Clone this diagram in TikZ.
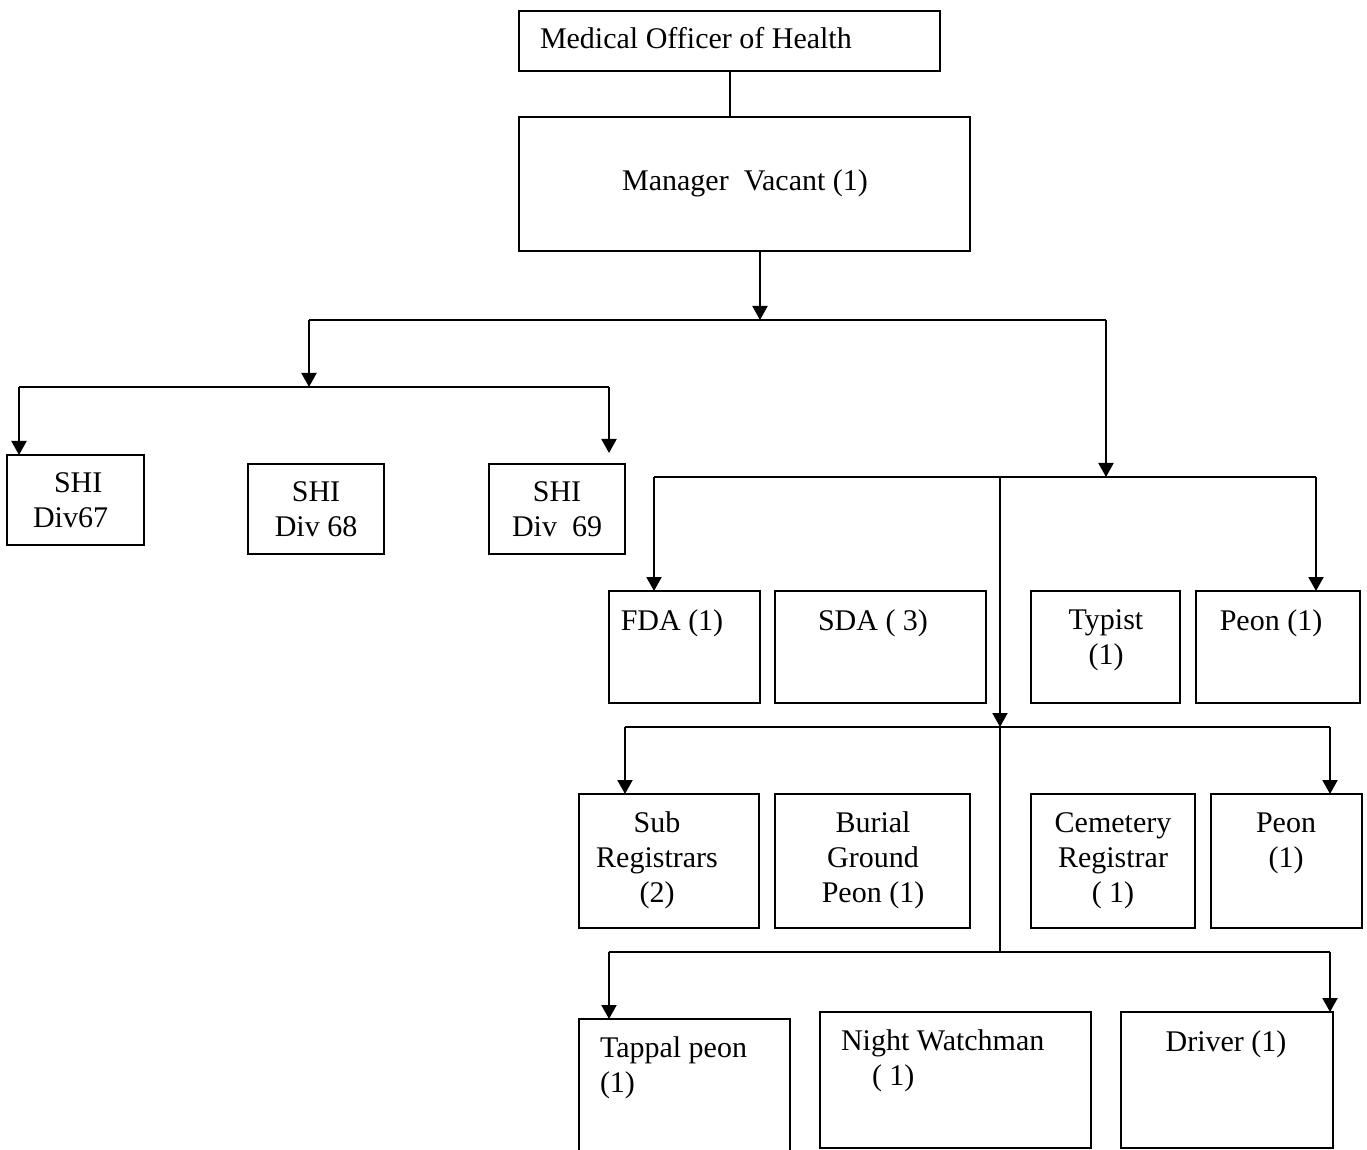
\documentclass[tikz,border=0pt]{standalone}
\usepackage{fontspec}
\setmainfont{Liberation Serif}
\usetikzlibrary{arrows.meta}
\newcommand\ebox[5]{\node[box, minimum width={(#4-#2)*0.5pt}, minimum height={(#5-#3)*0.5pt}] (#1) at ({(#2+#4)/2},{(#3+#5)/2}) {};}
\newcommand\ml[2][c]{\begin{tabular}[t]{@{}#1@{}}#2\end{tabular}}
\begin{document}
\begin{tikzpicture}[x=0.5pt,y=-0.5pt,line width=1pt,
  box/.style={draw, line width=1pt, inner sep=0pt, outer sep=0pt},
  lbl/.style={inner sep=0pt, anchor=base, font=\fontsize{15}{17.5}\selectfont},
  arr/.style={-{Triangle[length=7pt,width=7.5pt]}}]
\clip (0,0) rectangle (1367,1150);
\fill[white] (0,0) rectangle (1367,1150);
% boxes
\ebox{moh}{519}{11}{940}{71}
\ebox{mgr}{519}{117}{970}{251}
\ebox{shia}{7}{455}{144}{545}
\ebox{shib}{248}{464}{384}{554}
\ebox{shic}{489}{464}{625}{554}
\ebox{fda}{609}{591}{760}{703}
\ebox{sda}{775}{591}{986}{703}
\ebox{typ}{1031}{591}{1180}{703}
\ebox{peona}{1196}{591}{1360}{703}
\ebox{subr}{579}{794}{759}{928}
\ebox{bur}{775}{794}{970}{928}
\ebox{cem}{1031}{794}{1195}{928}
\ebox{peonb}{1211}{794}{1362}{928}
\ebox{tap}{579}{1019}{790}{1175}
\ebox{nw}{820}{1012}{1091}{1148}
\ebox{drv}{1121}{1012}{1333}{1148}
% junction coordinates
\coordinate (j1) at (760,320);
\coordinate (bl) at (309,320);
\coordinate (br) at (1106,320);
\coordinate (j2) at (309,387);
\coordinate (cl) at (19,387);
\coordinate (cr) at (609,387);
\coordinate (j3) at (1106,477);
\coordinate (dl) at (654,477);
\coordinate (dr) at (1316,477);
\coordinate (dm) at (1000,477);
\coordinate (j4) at (1000,727);
\coordinate (el) at (625,727);
\coordinate (er) at (1330,727);
\coordinate (j5) at (1000,952);
\coordinate (fl) at (609,952);
\coordinate (fr) at (1330,952);
% connectors
\draw (moh.south) -- (moh.south |- mgr.north);
\draw[arr] (mgr.south -| j1) -- (j1);
\draw (bl) -- (br);
\draw[arr] (bl) -- (j2);
\draw (cl) -- (cr);
\draw[arr] (cl) -- (cl |- shia.north);
\draw[arr,shorten >=5.5pt] (cr) -- (cr |- shic.north);
\draw[arr] (br) -- (j3);
\draw (dl) -- (dr);
\draw[arr] (dl) -- (dl |- fda.north);
\draw[arr] (dr) -- (dr |- peona.north);
\draw[arr] (dm) -- (j4);
\draw (el) -- (er);
\draw[arr] (el) -- (el |- subr.north);
\draw[arr] (er) -- (er |- peonb.north);
\draw (j4) -- (j5);
\draw (fl) -- (fr);
\draw[arr] (fl) -- (fl |- tap.north);
\draw[arr] (fr) -- (fr |- drv.north);
% texts
\node[lbl, anchor=base west] (tmoh) at (539,49) {Medical Officer of Health};
\node[lbl] (tmgr) at (745,191) {Manager\ \ Vacant (1)};
\node[lbl, anchor=base west] (tshia) at (32,493) {\ml[l]{\hspace{10.5pt}SHI\\Div67}};
\node[lbl] (tshib) at (316,502) {\ml{SHI\\Div 68}};
\node[lbl] (tshic) at (557,502) {\ml{SHI\\Div\ \ 69}};
\node[lbl] (tfda) at (672,630) {FDA (1)};
\node[lbl] (tsda) at (873,630) {SDA ( 3)};
\node[lbl] (ttyp) at (1106,629) {\ml{Typist\\(1)}};
\node[lbl] (tpeona) at (1271,630) {Peon (1)};
\node[lbl] (tsubr) at (657,832) {\ml{Sub\\Registrars\\(2)}};
\node[lbl] (tbur) at (873,832) {\ml{Burial\\Ground\\Peon (1)}};
\node[lbl] (tcem) at (1113,832) {\ml{Cemetery\\Registrar\\( 1)}};
\node[lbl] (tpeonb) at (1286,832) {\ml{Peon\\(1)}};
\node[lbl, anchor=base west] (ttap) at (599,1057) {\ml[l]{Tappal peon\\(1)}};
\node[lbl, anchor=base west] (tnw) at (840,1050) {\ml[l]{Night Watchman\\\hspace{15.5pt}( 1)}};
\node[lbl] (tdrv) at (1226,1051) {Driver (1)};
\end{tikzpicture}
\end{document}
